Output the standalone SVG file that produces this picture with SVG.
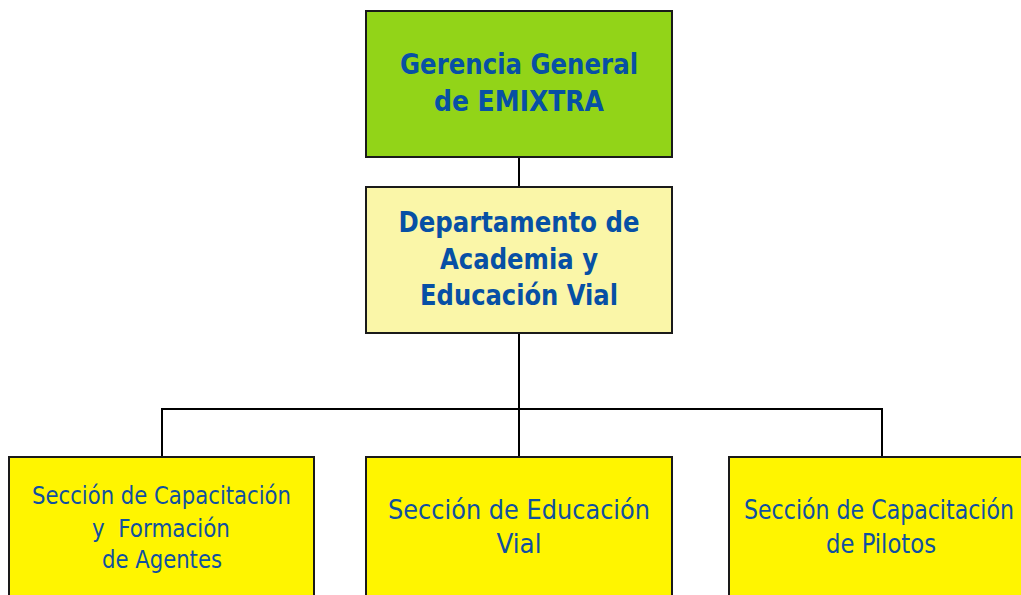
<svg xmlns="http://www.w3.org/2000/svg" width="1021" height="595" viewBox="0 0 1021 595">
<style>
.box{stroke:#1a1a1a;stroke-width:2}
.b{font-family:"DejaVu Sans Condensed","DejaVu Sans",sans-serif;font-stretch:condensed;font-weight:bold;font-size:27.8px;fill:#0750A5;text-anchor:middle}
.n{font-family:"DejaVu Sans Condensed","DejaVu Sans",sans-serif;font-stretch:condensed;fill:#1050A0;text-anchor:middle;white-space:pre}
.s1{font-size:24.5px}
.s2{font-size:27.4px}
.s3{font-size:25.8px}
.c{stroke:#000;stroke-width:2;fill:none}
</style>
<rect width="1021" height="595" fill="#fff"/>
<g id="connectors">
<line class="c" x1="519" y1="157" x2="519" y2="187"/>
<line class="c" x1="519" y1="333" x2="519" y2="409"/>
<polyline class="c" points="162,457 162,409 882,409 882,457"/>
<line class="c" x1="519" y1="409" x2="519" y2="457"/>
</g>
<g id="gerencia">
<rect class="box" x="366" y="11" width="306" height="146" fill="#92D418"/>
<text class="b" x="519" y="74" textLength="238" lengthAdjust="spacingAndGlyphs">Gerencia General</text>
<text class="b" x="519" y="111" textLength="170" lengthAdjust="spacingAndGlyphs">de EMIXTRA</text>
</g>
<g id="departamento">
<rect class="box" x="366" y="187" width="306" height="146" fill="#FAF6A8"/>
<text class="b" x="519" y="232" textLength="241" lengthAdjust="spacingAndGlyphs">Departamento de</text>
<text class="b" x="519" y="269" textLength="158" lengthAdjust="spacingAndGlyphs">Academia y</text>
<text class="b" x="519" y="305" textLength="198" lengthAdjust="spacingAndGlyphs">Educación Vial</text>
</g>
<g id="agentes">
<rect class="box" x="9" y="457" width="305" height="150" fill="#FFF500"/>
<text class="n s1" x="161.5" y="504" textLength="259" lengthAdjust="spacingAndGlyphs">Sección de Capacitación</text>
<text class="n s1" x="161" y="537" textLength="138" lengthAdjust="spacingAndGlyphs" xml:space="preserve">y  Formación</text>
<text class="n s1" x="162" y="568" textLength="120" lengthAdjust="spacingAndGlyphs">de Agentes</text>
</g>
<g id="educacion">
<rect class="box" x="366" y="457" width="306" height="150" fill="#FFF500"/>
<text class="n s2" x="519" y="519" textLength="262" lengthAdjust="spacingAndGlyphs">Sección de Educación</text>
<text class="n s2" x="519" y="553">Vial</text>
</g>
<g id="pilotos">
<rect class="box" x="729" y="457" width="305" height="150" fill="#FFF500"/>
<text class="n s3" x="879" y="519" textLength="270" lengthAdjust="spacingAndGlyphs">Sección de Capacitación</text>
<text class="n s3" x="881" y="553" textLength="110" lengthAdjust="spacingAndGlyphs">de Pilotos</text>
</g>
</svg>
